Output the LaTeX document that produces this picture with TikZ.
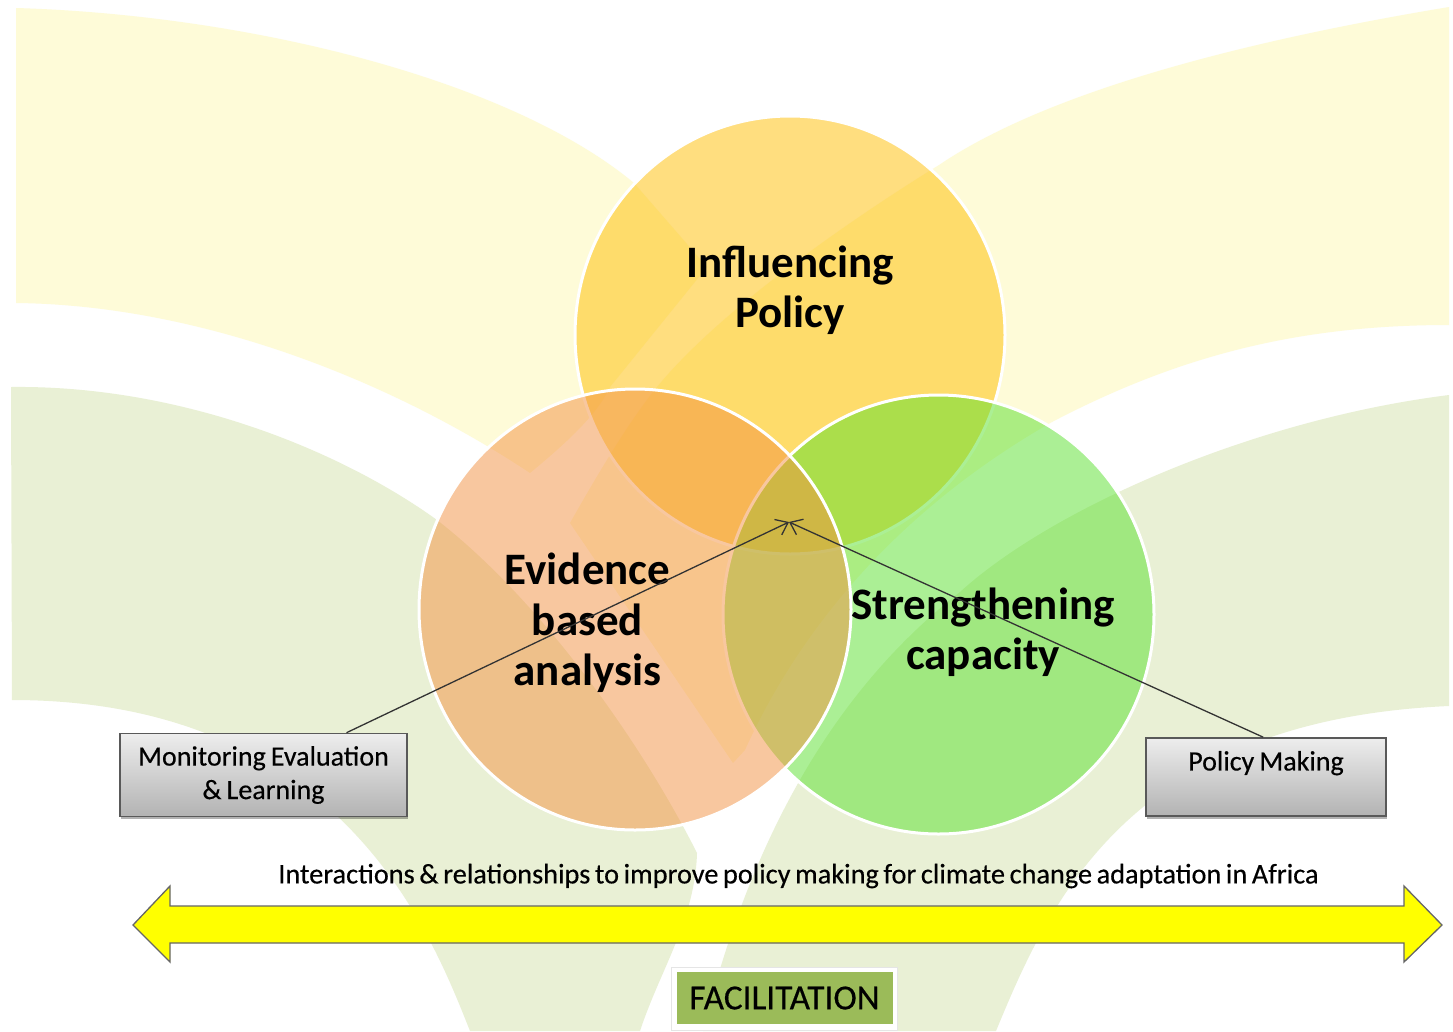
\documentclass[tikz,border=0pt]{standalone}
\usepackage{fontspec}
\setmainfont{Carlito}
\newfontfamily\capfont{Carlito}[FakeBold=0.4,WordSpace=0.72]
\newfontfamily\boxfont{Carlito}[FakeBold=0.35,WordSpace=0.8]
\usetikzlibrary{arrows.meta,shadows,shapes.geometric}
\definecolor{paley}{RGB}{254,251,216}
\definecolor{paleg}{RGB}{233,240,213}
\definecolor{ctop}{RGB}{255,190,0}
\definecolor{corg}{RGB}{243,145,65}
\definecolor{cgrn}{RGB}{89,225,45}
\definecolor{facg}{RGB}{155,187,89}
\definecolor{arrowy}{RGB}{255,255,0}
\tikzset{
  venn/.style={ellipse,draw=white,line width=3pt,fill opacity=.5,text opacity=1,draw opacity=1,inner sep=0pt},
  vlabel/.style={font=\fontsize{45}{50.5}\selectfont\bfseries,align=center,text=black},
  graybox/.style={draw=black!65,line width=1.6pt,top color=black!7,bottom color=black!30,
    drop shadow={shadow xshift=1pt,shadow yshift=-2.5pt,opacity=.3,fill=black},
    font=\boxfont\fontsize{28}{33.5}\selectfont,align=center,inner sep=0pt},
  link/.style={draw=black!80,line width=1.3pt,-{Straight Barb[length=11pt,width=17pt,line width=1.3pt]}},
  bgy/.style={fill=paley},
  bgg/.style={fill=paleg}
}
\begin{document}
\begin{tikzpicture}[x=1pt,y=-1pt]
\useasboundingbox (0,0) rectangle (1453,1031);
\fill[white] (0,0) rectangle (1453,1031);
% yellow background, left leaf
\path[bgy] (16,8) .. controls (250,15) and (510,80) .. (634,183) -- (707,267)
  -- (610,387) .. controls (598,413) and (570,440) .. (530,473)
  .. controls (390,380) and (200,305) .. (16,303) -- cycle;
% yellow background, right leaf with its stem
\path[bgy] (1449,7) .. controls (1250,40) and (1050,90) .. (939,165)
  .. controls (850,220) and (720,310) .. (657,387)
  .. controls (630,420) and (600,470) .. (570,523)
  -- (733,763) -- (745,750)
  .. controls (790,650) and (880,520) .. (1052,422)
  .. controls (1180,355) and (1300,325) .. (1449,325) -- cycle;
% green background
\path[bgg] (11,387) .. controls (180,385) and (340,450) .. (437,520)
  .. controls (540,600) and (640,740) .. (697,853)
  .. controls (695,920) and (660,970) .. (640,1031) -- (470,1031)
  .. controls (430,930) and (340,700) .. (12,700) -- cycle;
\path[bgg] (1449,395) .. controls (1250,420) and (1050,510) .. (960,592)
  .. controls (860,670) and (760,800) .. (703,1031) -- (996,1031)
  .. controls (1050,900) and (1130,720) .. (1449,706) -- cycle;
% circles
\node[venn,fill=ctop,minimum width=430pt,minimum height=438pt] (top) at (790,335) {};
\node[venn,fill=cgrn,minimum width=431pt,minimum height=439pt] (grn) at (938.5,614.5) {};
\node[venn,fill=corg,minimum width=432pt,minimum height=441pt] (org) at (635,609.5) {};
\node[vlabel] (ltop) at (790,290) {Influencing\\Policy};
\node[vlabel] (lorg) at (587.5,623) {Evidence\\based\\analysis};
\node[vlabel] (lgrn) at (983,632) {Strengthening\\capacity};
% boxes
\node[graybox,minimum width=287pt,minimum height=83pt] (mel) at (263.5,775) {\raisebox{-1pt}{Monitoring Evaluation}\\\raisebox{-1pt}{\& Learning}};
\node[graybox,minimum width=240pt,minimum height=78pt] (pm) at (1266,777) {\raisebox{-1pt}{Policy Making}\\\mbox{}};
\coordinate (apex) at (789,522);
\draw[link] (mel.27.8) -- (apex);
\draw[link] (pm.94.4) -- (apex);
% text and arrow
\node[font=\capfont\fontsize{28.3}{32}\selectfont,inner sep=0pt] (cap) at (798.5,876) {Interactions \& relationships to improve policy making for climate change adaptation in Africa};
\path[fill=arrowy,draw=black!60,line width=1.3pt]
  (133,925) -- (170,886) -- (170,906) -- (1404,906) -- (1404,886) -- (1442,925)
  -- (1404,962) -- (1404,943) -- (170,943) -- (170,962) -- cycle;
\node[fill=white,draw=black!10,line width=1pt,minimum width=226pt,minimum height=63pt,inner sep=0pt] (facframe) at (784.5,999) {};
\node[fill=facg,minimum width=216pt,minimum height=52pt,inner sep=0pt,
  font=\boxfont\fontsize{35.3}{40}\selectfont] (fac) at (784.5,998) {FACILITATION};
\end{tikzpicture}
\end{document}
